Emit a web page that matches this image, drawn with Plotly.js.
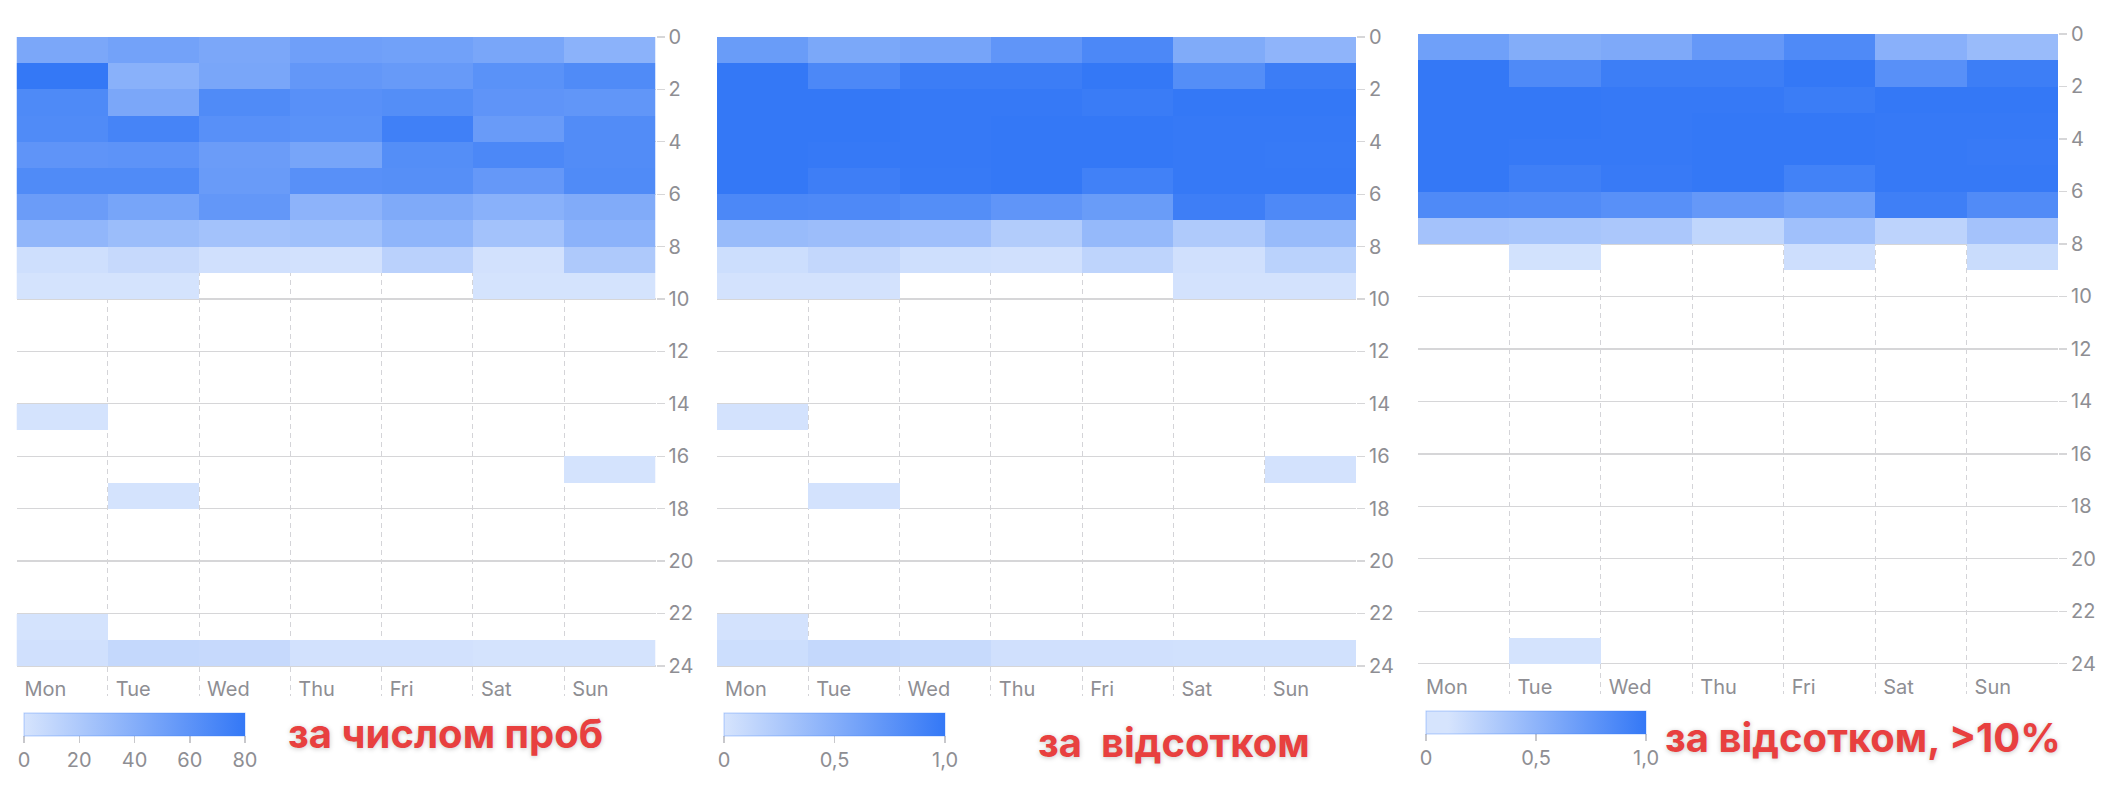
<!DOCTYPE html>
<html>
<head>
<meta charset="utf-8">
<script src="https://cdn.plot.ly/plotly-3.0.1.min.js"></script>
<style>
  html, body { margin: 0; padding: 0; background: #ffffff; }
  #chart { width: 2114px; height: 794px; }
</style>
</head>
<body>
<div id="chart"></div>
<script>
// ---------- data ----------
const days = ['Mon', 'Tue', 'Wed', 'Thu', 'Fri', 'Sat', 'Sun'];
const hourTicks = [0, 2, 4, 6, 8, 10, 12, 14, 16, 18, 20, 22, 24];

// panel 1: number of attempts per hour (rows = hour 0..23, cols = Mon..Sun)
const counts = [
  [45, 49, 45, 51, 50, 46, 37],
  [80, 38, 46, 57, 55, 61, 66],
  [67, 45, 66, 62, 64, 59, 58],
  [66, 71, 62, 61, 74, 54, 65],
  [59, 60, 53, 47, 64, 68, 65],
  [66, 66, 54, 62, 63, 56, 66],
  [53, 47, 57, 36, 43, 38, 42],
  [34, 29, 25, 27, 35, 25, 37],
  [4, 8, 3, 2, 14, 2, 20],
  [1, 1, null, null, null, 1, 1],
  [null, null, null, null, null, null, null],
  [null, null, null, null, null, null, null],
  [null, null, null, null, null, null, null],
  [null, null, null, null, null, null, null],
  [1, null, null, null, null, null, null],
  [null, null, null, null, null, null, null],
  [null, null, null, null, null, null, 1],
  [null, 1, null, null, null, null, null],
  [null, null, null, null, null, null, null],
  [null, null, null, null, null, null, null],
  [null, null, null, null, null, null, null],
  [null, null, null, null, null, null, null],
  [1, null, null, null, null, null, null],
  [3, 9, 8, 2, 2, 1, 1]
];

// panel 2: share (0..1)
const shares = [
  [0.67, 0.56, 0.59, 0.73, 0.85, 0.53, 0.44],
  [1.00, 0.85, 0.95, 0.95, 1.00, 0.80, 0.95],
  [1.00, 1.00, 0.99, 0.99, 0.96, 1.00, 1.00],
  [1.00, 1.00, 0.99, 1.00, 1.00, 0.99, 0.99],
  [1.00, 0.99, 0.99, 1.00, 1.00, 0.99, 0.98],
  [1.00, 0.94, 0.98, 1.00, 0.92, 0.99, 0.99],
  [0.85, 0.84, 0.80, 0.73, 0.67, 0.94, 0.84],
  [0.38, 0.36, 0.34, 0.22, 0.40, 0.24, 0.38],
  [0.06, 0.12, 0.05, 0.04, 0.15, 0.04, 0.17],
  [0.02, 0.02, null, null, null, 0.02, 0.02],
  [null, null, null, null, null, null, null],
  [null, null, null, null, null, null, null],
  [null, null, null, null, null, null, null],
  [null, null, null, null, null, null, null],
  [0.02, null, null, null, null, null, null],
  [null, null, null, null, null, null, null],
  [null, null, null, null, null, null, 0.02],
  [null, 0.02, null, null, null, null, null],
  [null, null, null, null, null, null, null],
  [null, null, null, null, null, null, null],
  [null, null, null, null, null, null, null],
  [null, null, null, null, null, null, null],
  [0.02, null, null, null, null, null, null],
  [0.06, 0.11, 0.09, 0.04, 0.04, 0.03, 0.03]
];

// panel 3: share, only cells above 10%
const sharesOver10 = [
  [0.67, 0.56, 0.59, 0.73, 0.85, 0.53, 0.44],
  [1.00, 0.85, 0.95, 0.95, 1.00, 0.80, 0.95],
  [1.00, 1.00, 0.99, 0.99, 0.96, 1.00, 1.00],
  [1.00, 1.00, 0.99, 1.00, 1.00, 0.99, 0.99],
  [1.00, 0.99, 0.99, 1.00, 1.00, 0.99, 0.98],
  [1.00, 0.94, 0.98, 1.00, 0.92, 0.99, 0.99],
  [0.85, 0.84, 0.80, 0.73, 0.67, 0.94, 0.84],
  [0.38, 0.36, 0.34, 0.22, 0.40, 0.24, 0.38],
  [null, 0.12, null, null, 0.15, null, 0.17],
  [null, null, null, null, null, null, null],
  [null, null, null, null, null, null, null],
  [null, null, null, null, null, null, null],
  [null, null, null, null, null, null, null],
  [null, null, null, null, null, null, null],
  [null, null, null, null, null, null, null],
  [null, null, null, null, null, null, null],
  [null, null, null, null, null, null, null],
  [null, null, null, null, null, null, null],
  [null, null, null, null, null, null, null],
  [null, null, null, null, null, null, null],
  [null, null, null, null, null, null, null],
  [null, null, null, null, null, null, null],
  [null, null, null, null, null, null, null],
  [null, 0.11, null, null, null, null, null]
];

const countTicks = [0, 20, 40, 60, 80];
const shareTicks = [0, 0.5, 1];
const shareTickText = ['0', '0,5', '1,0'];
const captions = ['за числом проб', 'за\u00a0 відсотком', 'за відсотком, >10%'];

// ---------- styling ----------
const W = 2114, H = 794;
const LIGHT = '#d6e4fd', BLUE = '#3478f6';
const GREY = '#8e8e93';
const FONT = 'Inter, Roboto, "Liberation Sans", sans-serif';
const px = v => v / W;
const py = v => 1 - v / H;

function colorbar(xLeft, yTop, lenPx, tickvals, ticktext) {
  return {
    orientation: 'h',
    x: px(xLeft), xanchor: 'left',
    y: py(yTop), yanchor: 'top',
    len: lenPx, lenmode: 'pixels',
    thickness: 23, thicknessmode: 'pixels',
    xpad: 0, ypad: 0,
    outlinecolor: 'rgba(52,120,246,0.35)', outlinewidth: 1,
    ticks: 'outside', ticklen: 7, tickwidth: 1.5, tickcolor: '#c8c8cc',
    tickvals: tickvals, ticktext: ticktext,
    tickfont: { family: FONT, size: 20, color: GREY }
  };
}

const scaleFull = [[0, LIGHT], [1, BLUE]];
const scaleOver10 = [[0, LIGHT], [0.1, LIGHT], [1, BLUE]];

function heat(z, xa, ya, zmax, scale, cb) {
  return {
    type: 'heatmap', z: z,
    x0: 0.5, dx: 1, y0: 0.5, dy: 1,
    xaxis: xa, yaxis: ya,
    zmin: 0, zmax: zmax, colorscale: scale,
    hoverongaps: false, xgap: 0, ygap: 0,
    colorbar: cb
  };
}

const traces = [
  heat(counts, 'x', 'y', 80, scaleFull, colorbar(24, 713, 221, countTicks, countTicks.map(String))),
  heat(shares, 'x2', 'y2', 1, scaleFull, colorbar(724, 713, 221, shareTicks, shareTickText)),
  heat(sharesOver10, 'x3', 'y3', 1, scaleOver10, colorbar(1426, 711, 220, shareTicks, shareTickText))
];

function xAxis(l, r, anchor) {
  return {
    domain: [px(l), px(r)], anchor: anchor,
    range: [0, 7], fixedrange: true,
    tickvals: days.map((d, i) => i), ticktext: days,
    ticklabelposition: 'inside right',
    ticklabelshift: 8, ticklabelstandoff: -10,
    ticks: '', showline: false, zeroline: false,
    showgrid: true, gridcolor: '#d4d4d8', gridwidth: 1, griddash: '5px,4px',
    tickfont: { family: FONT, size: 20, color: GREY }
  };
}
function yAxis(top, bottom, anchor) {
  return {
    domain: [py(bottom), py(top)], anchor: anchor, side: 'right',
    range: [25.15, 0], fixedrange: true,
    tickvals: hourTicks, ticktext: hourTicks.map(String),
    ticks: 'outside', ticklen: 8, tickwidth: 1.3, tickcolor: '#d6d6d8',
    showline: false, zeroline: false,
    showgrid: true, gridcolor: '#d6d6d8', gridwidth: 1.3,
    tickfont: { family: FONT, size: 20, color: GREY }
  };
}

const capFont = { family: FONT, size: 40, color: '#e8403f', weight: 700,
                  shadow: '0px 1px 5px rgba(0,0,0,0.22)' };

const layout = {
  width: W, height: H,
  margin: { l: 0, r: 0, t: 0, b: 0, pad: 0 },
  paper_bgcolor: '#ffffff', plot_bgcolor: 'rgba(0,0,0,0)',
  showlegend: false,
  xaxis: xAxis(16.5, 655.5, 'y'),
  yaxis: yAxis(37, 696, 'x'),
  xaxis2: xAxis(717, 1356, 'y2'),
  yaxis2: yAxis(37, 696, 'x2'),
  xaxis3: xAxis(1418, 2058, 'y3'),
  yaxis3: yAxis(34, 694, 'x3'),
  annotations: [
    { text: captions[0], xref: 'paper', yref: 'paper', x: px(445), y: py(733), xanchor: 'center', yanchor: 'middle', showarrow: false, font: capFont },
    { text: captions[1], xref: 'paper', yref: 'paper', x: px(1174), y: py(742), xanchor: 'center', yanchor: 'middle', showarrow: false, font: capFont },
    { text: captions[2], xref: 'paper', yref: 'paper', x: px(1863), y: py(737), xanchor: 'center', yanchor: 'middle', showarrow: false, font: capFont }
  ]
};

Plotly.newPlot('chart', traces, layout, { displayModeBar: false, staticPlot: true });
</script>
</body>
</html>
